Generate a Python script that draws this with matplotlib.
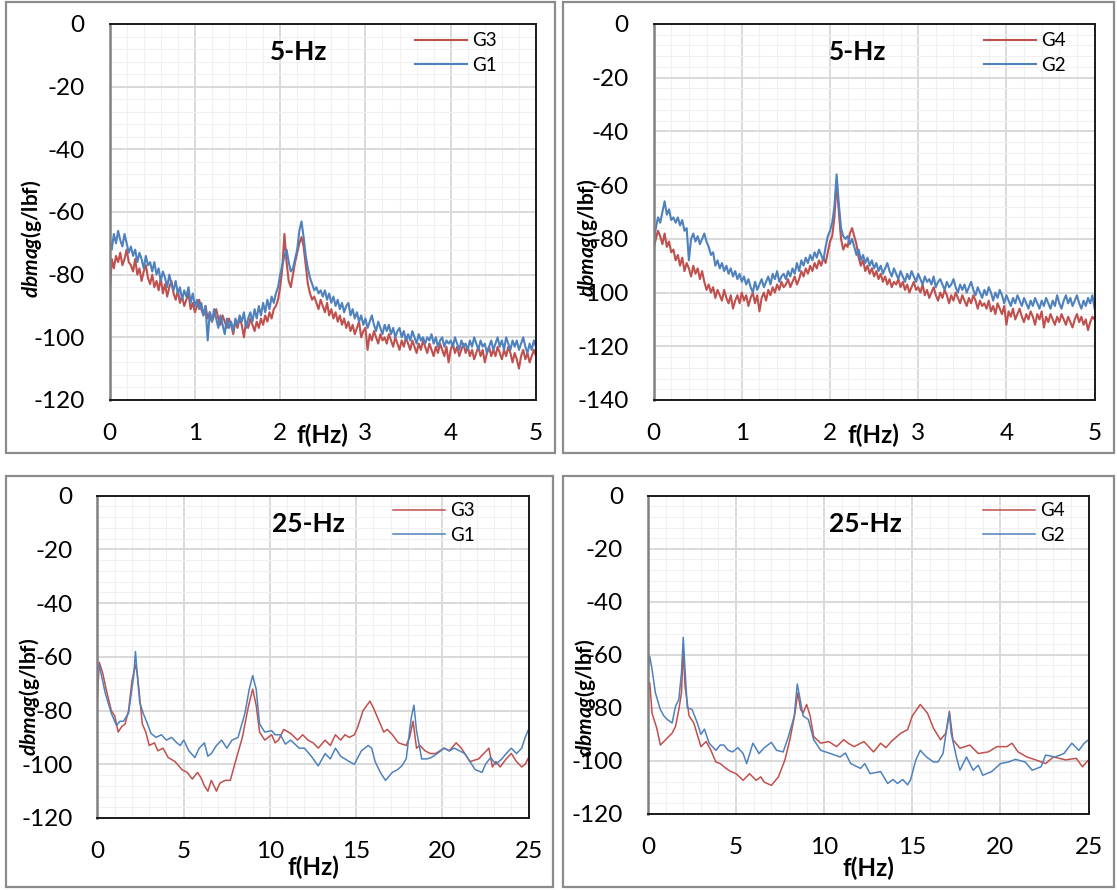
import numpy as np
import matplotlib
matplotlib.use("Agg")
import matplotlib.pyplot as plt
from matplotlib.patches import Rectangle
from matplotlib.ticker import MultipleLocator

plt.rcParams['font.family'] = ['Lato', 'DejaVu Sans']
plt.rcParams['axes.unicode_minus'] = False
plt.rcParams['mathtext.fontset'] = 'custom'
plt.rcParams['mathtext.rm'] = 'Lato:bold'
plt.rcParams['mathtext.it'] = 'Lato:bold:italic'
plt.rcParams['mathtext.bf'] = 'Lato:bold'

# ---------------- data ----------------
# 5-Hz panels: frequency grid 0..5 Hz, step 0.025 Hz
freq_5hz = np.linspace(0, 5, 201)

g1_5hz = [
    -68, -72, -67, -70, -66, -69, -71, -67, -70, -73,
    -71, -74, -72, -76, -73, -75, -78, -74, -77, -76,
    -79, -76, -80, -78, -82, -79, -81, -84, -80, -83,
    -85, -82, -86, -84, -88, -85, -87, -84, -89, -86,
    -90, -88, -91, -89, -93, -90, -101, -92, -95, -91,
    -94, -97, -93, -96, -99, -94, -97, -95, -98, -94,
    -96, -93, -95, -92, -97, -94, -92, -95, -91, -94,
    -90, -93, -89, -92, -88, -91, -87, -89, -86, -84,
    -80, -77, -74, -72, -76, -79, -78, -75, -72, -66,
    -63, -68, -74, -78, -81, -83, -85, -84, -86, -85,
    -87, -85, -88, -86, -89, -87, -90, -88, -91, -89,
    -92, -90, -89, -93, -91, -94, -92, -95, -93, -96,
    -94, -97, -95, -93, -96, -98, -95, -97, -99, -96,
    -98, -96, -99, -97, -100, -98, -97, -100, -98, -101,
    -99, -101, -98, -100, -102, -99, -101, -100, -102, -100,
    -101, -99, -102, -100, -103, -101, -100, -103, -101, -102,
    -101, -103, -100, -102, -104, -101, -103, -102, -104, -101,
    -103, -100, -102, -104, -101, -103, -102, -105, -103, -101,
    -104, -102, -100, -103, -101, -104, -100, -102, -104, -101,
    -103, -101, -104, -102, -100, -103, -105, -102, -104, -101,
    -103]

g3_5hz = [
    -87, -75, -78, -74, -76, -73, -77, -75, -72, -76,
    -77, -79, -75, -80, -78, -82, -79, -77, -81, -83,
    -80, -84, -82, -85, -81, -86, -83, -87, -84, -82,
    -86, -88, -85, -89, -87, -90, -88, -86, -91, -89,
    -92, -90, -88, -91, -93, -90, -94, -92, -95, -93,
    -91, -94, -96, -93, -95, -97, -94, -96, -99, -95,
    -97, -94, -96, -100, -95, -97, -94, -96, -98, -95,
    -97, -94, -96, -93, -95, -92, -94, -91, -90, -88,
    -84, -78, -67, -76, -82, -84, -80, -76, -73, -70,
    -68, -71, -77, -83, -86, -88, -87, -89, -91, -88,
    -90, -92, -89, -93, -91, -94, -92, -95, -93, -96,
    -94, -97, -95, -98, -96, -99, -97, -95, -100, -98,
    -97, -104, -99, -101, -98, -100, -102, -99, -101, -100,
    -102, -99, -101, -103, -100, -102, -104, -101, -103, -100,
    -102, -104, -101, -103, -105, -102, -104, -101, -103, -105,
    -102, -104, -106, -103, -105, -102, -104, -106, -103, -108,
    -104, -102, -105, -103, -106, -104, -102, -105, -103, -106,
    -104, -107, -105, -103, -106, -104, -108, -105, -103, -106,
    -104, -106, -103, -105, -107, -104, -106, -103, -105, -108,
    -105, -107, -110, -106, -104, -107, -105, -108, -106, -104,
    -106]

g2_5hz = [
    -82, -76, -72, -74, -70, -66, -71, -69, -73, -72,
    -74, -72, -75, -73, -77, -76, -88, -80, -78, -81,
    -79, -82, -80, -78, -81, -83, -86, -85, -90, -88,
    -91, -89, -92, -90, -93, -91, -94, -92, -95, -93,
    -96, -94, -97, -95, -98, -100, -96, -99, -97, -95,
    -98, -96, -94, -97, -93, -95, -92, -96, -94, -93,
    -95, -92, -94, -91, -93, -89, -92, -88, -90, -87,
    -89, -86, -88, -85, -87, -84, -86, -88, -83, -79,
    -77, -74, -68, -56, -67, -76, -79, -80, -79, -82,
    -80, -83, -86, -84, -88, -86, -89, -87, -90, -88,
    -91, -89, -92, -90, -93, -91, -89, -92, -94, -91,
    -93, -95, -92, -94, -96, -93, -95, -92, -94, -96,
    -93, -95, -97, -94, -96, -95, -97, -94, -98, -96,
    -95, -97, -99, -96, -98, -97, -95, -98, -100, -97,
    -99, -97, -100, -98, -96, -99, -101, -98, -100, -102,
    -99, -101, -98, -100, -103, -100, -102, -99, -101, -104,
    -101, -103, -105, -102, -104, -101, -103, -105, -102, -104,
    -106, -103, -105, -102, -104, -106, -103, -105, -102, -104,
    -106, -103, -105, -101, -104, -106, -103, -101, -104, -102,
    -105, -103, -101, -104, -106, -103, -105, -102, -104, -101,
    -106]

g4_5hz = [
    -84, -80, -77, -79, -82, -78, -83, -81, -85, -84,
    -88, -86, -90, -87, -92, -89, -91, -94, -90, -93,
    -91, -95, -92, -96, -99, -97, -100, -98, -102, -99,
    -101, -103, -99, -102, -104, -101, -106, -103, -101, -104,
    -100, -103, -101, -105, -102, -100, -104, -101, -107, -102,
    -100, -103, -99, -101, -98, -100, -97, -99, -96, -98,
    -97, -95, -98, -96, -94, -97, -95, -92, -94, -91,
    -93, -90, -92, -89, -91, -88, -90, -87, -89, -85,
    -81, -79, -72, -59, -70, -80, -84, -82, -83, -78,
    -76, -79, -82, -87, -90, -88, -92, -90, -93, -91,
    -94, -92, -95, -93, -96, -94, -97, -95, -98, -96,
    -97, -95, -98, -96, -99, -97, -100, -98, -96, -99,
    -98, -100, -97, -101, -99, -102, -100, -98, -101, -103,
    -100, -102, -99, -101, -104, -101, -103, -100, -102, -104,
    -101, -103, -105, -102, -104, -101, -103, -106, -103, -105,
    -104, -106, -103, -107, -105, -108, -104, -106, -108, -105,
    -112, -107, -109, -106, -110, -108, -106, -109, -111, -108,
    -110, -107, -109, -112, -108, -110, -107, -113, -109, -111,
    -108, -110, -112, -109, -111, -108, -110, -112, -109, -111,
    -113, -110, -108, -111, -109, -112, -110, -114, -111, -109,
    -110]

# 25-Hz panel, G3 / G1
g3_25_f = [0, 0.1, 0.3, 0.5, 0.8, 1.0, 1.2, 1.4, 1.6, 1.8,
           2.0, 2.2, 2.3, 2.4, 2.6, 2.8, 3.0, 3.3, 3.5, 3.8,
           4.1, 4.5, 4.9, 5.2, 5.5, 5.8, 6.0, 6.2, 6.4, 6.6,
           6.9, 7.1, 7.4, 7.7, 8.0, 8.4, 8.75, 9.0, 9.2, 9.4,
           9.7, 10.1, 10.3, 10.5, 10.8, 11.2, 11.6, 11.9, 12.2, 12.5,
           12.8, 13.2, 13.5, 13.8, 14.1, 14.35, 14.6, 14.9, 15.1, 15.4,
           15.8, 16.0, 16.2, 16.6, 16.8, 17.1, 17.45, 17.9, 18.1, 18.3,
           18.5, 18.7, 19.0, 19.3, 19.6, 20.1, 20.4, 20.8, 21.1, 21.3,
           21.6, 22.1, 22.4, 22.7, 22.9, 23.1, 23.35, 23.7, 24.0, 24.3,
           24.6, 24.8, 25.0]
g3_25_v = [-75, -62, -66, -72, -80, -82, -88, -86, -85, -80,
           -69, -63, -66, -72, -85, -88, -93, -92, -95, -94,
           -97.5, -99, -102, -103, -105.5, -103, -105, -108, -110, -106,
           -110, -107, -106, -106, -99, -90, -78.5, -72, -78, -88,
           -91, -89, -92, -91, -87, -88.5, -91, -89, -91, -92,
           -94, -91, -93, -89, -91, -89, -90, -89, -86, -80,
           -76.5, -79, -82, -88, -87, -89, -92, -93, -90, -84,
           -94, -93, -95, -96, -96, -94, -95, -92, -94, -96,
           -99, -98, -96, -94, -101, -99, -101, -98, -96, -99,
           -101, -100, -97.5]

g1_25_f = [0, 0.1, 0.45, 0.8, 1.1, 1.3, 1.5, 1.8, 2.1, 2.2,
           2.3, 2.45, 2.65, 2.9, 3.1, 3.4, 3.7, 4.0, 4.3, 4.6,
           4.8, 5.0, 5.3, 5.65, 5.9, 6.2, 6.4, 6.6, 6.9, 7.2,
           7.5, 7.8, 8.15, 8.55, 8.8, 9.0, 9.2, 9.4, 9.7, 10.1,
           10.3, 10.6, 10.9, 11.2, 11.45, 11.7, 12.0, 12.4, 12.8, 13.2,
           13.5, 13.8, 14.1, 14.35, 14.6, 14.9, 15.3, 15.7, 15.9, 16.1,
           16.4, 16.7, 17.1, 17.4, 17.65, 17.9, 18.2, 18.35, 18.5, 18.8,
           19.1, 19.35, 19.7, 20.1, 20.4, 20.7, 21.0, 21.3, 21.6, 21.9,
           22.3, 22.5, 22.8, 23.1, 23.45, 23.7, 24.0, 24.3, 24.6, 24.8,
           25.0]
g1_25_v = [-65, -63, -73.5, -81, -85.5, -84, -84, -81, -67, -58,
           -66, -77, -81, -85, -88.5, -90, -89, -91, -90, -92,
           -93, -91, -95, -97.5, -94, -92, -97, -96, -93, -91,
           -94, -91, -90, -81, -72, -67, -72, -85, -88, -87.5,
           -89, -89, -92.5, -91, -92.5, -94, -94, -97, -100.6, -96,
           -98, -94, -97, -98, -99, -100, -95, -93, -94, -99,
           -103, -106, -103, -102, -100.6, -98, -82.5, -78, -87.5, -98,
           -98, -97.5, -96, -94, -95, -94, -95, -96, -99, -102,
           -103, -100, -97.5, -100, -98, -96, -94, -96, -94, -90,
           -87]

# 25-Hz panel, G4 / G2
g4_25_f = [0, 0.1, 0.23, 0.5, 0.7, 1.0, 1.37, 1.56, 1.75, 1.9,
           2.0, 2.1, 2.33, 2.6, 3.0, 3.3, 3.57, 3.85, 4.1, 4.43,
           4.7, 5.0, 5.4, 5.76, 6.14, 6.4, 6.6, 7.0, 7.4, 7.77,
           8.05, 8.34, 8.5, 8.66, 8.8, 9.0, 9.2, 9.4, 9.8, 10.25,
           10.7, 11.1, 11.4, 11.7, 12.25, 12.8, 13.2, 13.5, 13.8, 14.35,
           14.73, 15.0, 15.45, 15.86, 16.2, 16.6, 16.9, 17.1, 17.3, 17.7,
           18.26, 18.74, 19.3, 19.8, 20.37, 20.65, 21.0, 21.5, 22.0, 22.56,
           23.0, 23.7, 24.3, 24.65, 25.0]
g4_25_v = [-73.7, -70.5, -82, -87.7, -94, -92, -89.5, -87, -80.6, -74.3,
           -57.2, -71.8, -83, -85.7, -94.6, -92.7, -96, -100.4, -101, -102.8,
           -104, -104.8, -107.3, -104.8, -107.3, -106, -108, -109.2, -106, -99.6,
           -92, -82, -74.3, -80.6, -82, -78.7, -83, -90.8, -93.3, -92.7,
           -94.6, -92, -93.5, -94.6, -92.7, -96.6, -93.3, -95, -92.7, -89.5,
           -88.2, -83, -78.7, -82, -87.7, -92, -89.5, -81.3, -92, -95.2,
           -94, -97.2, -96.6, -94.6, -94.6, -93.3, -96.6, -98.5, -99.6, -101,
           -98.5, -99.6, -99, -102.2, -99.6]

g2_25_f = [0, 0.1, 0.23, 0.42, 0.7, 0.9, 1.1, 1.37, 1.56, 1.75,
           1.9, 2.0, 2.1, 2.23, 2.5, 2.8, 3.0, 3.2, 3.47, 3.85,
           4.1, 4.3, 4.55, 4.8, 5.1, 5.4, 5.6, 5.95, 6.3, 6.6,
           7.0, 7.3, 7.67, 7.96, 8.3, 8.47, 8.6, 8.8, 9.1, 9.4,
           9.8, 10.35, 10.9, 11.2, 11.5, 12.06, 12.3, 12.6, 13.2, 13.6,
           13.9, 14.16, 14.45, 14.73, 14.9, 15.2, 15.45, 15.8, 16.2, 16.45,
           16.74, 16.9, 17.1, 17.2, 17.5, 17.7, 18.07, 18.45, 18.74, 19.0,
           19.5, 20.0, 20.45, 20.85, 21.4, 21.8, 22.3, 22.56, 23.1, 23.6,
           24.05, 24.45, 24.75, 25.0]
g2_25_v = [-65.5, -60.6, -65.5, -74.3, -80.6, -83, -84.4, -85.7, -79.4, -76.8,
           -66.7, -53.4, -65.5, -80, -80.6, -85.7, -90, -88, -93.3, -96,
           -94, -94, -96, -96.6, -95, -97.2, -101, -93.3, -97.2, -95,
           -93, -96, -96.6, -91, -83, -71, -75.6, -83, -84.4, -92,
           -96, -97.2, -98.5, -97, -101, -102.8, -101, -104.8, -104, -108.5,
           -107, -108.5, -107, -109, -107, -99.6, -96, -98.5, -100.4, -100.4,
           -97.2, -90, -82, -89.5, -98.5, -103.5, -98.5, -103.5, -101.6, -105.4,
           -104, -101, -100.4, -99.4, -100.4, -103.5, -102.2, -97.8, -98.5, -97.2,
           -93.3, -96, -93.3, -92]

xticks_5 = [0, 1, 2, 3, 4, 5]
xticks_25 = [0, 5, 10, 15, 20, 25]
yticks_120 = [0, -20, -40, -60, -80, -100, -120]
yticks_140 = [0, -20, -40, -60, -80, -100, -120, -140]

RED = '#C0504D'
BLUE = '#4F81BD'

W, H = 1117, 890
fig = plt.figure(figsize=(W / 100, H / 100), dpi=100)


def px_rect(x0, y0, x1, y1):
    return [x0 / W, 1 - y1 / H, (x1 - x0) / W, (y1 - y0) / H]


# panel frames
for (x0, y0, x1, y1) in [(6, 2, 555, 453), (563, 2, 1114, 453),
                         (6, 476, 553, 887), (563, 476, 1114, 887)]:
    fig.add_artist(Rectangle((x0 / W, 1 - y1 / H), (x1 - x0) / W, (y1 - y0) / H,
                             transform=fig.transFigure, fill=False,
                             ec='#8c8c8c', lw=1.6))

panels = [
    dict(rect=(109.6, 24, 536, 400), red=(freq_5hz, g3_5hz, 'G3'), blue=(freq_5hz, g1_5hz, 'G1'),
         xt=xticks_5, xmax=5, xminor=0.2, yt=yticks_120, ymin=-120, title='5-Hz', tpos=(2.22, -9),
         lw=1.5, leg=(415, 44), ylab=(31, 239), xlab=(322, 435)),
    dict(rect=(653.6, 24, 1094.6, 400), red=(freq_5hz, g4_5hz, 'G4'), blue=(freq_5hz, g2_5hz, 'G2'),
         xt=xticks_5, xmax=5, xminor=0.2, yt=yticks_140, ymin=-140, title='5-Hz', tpos=(2.31, -10.5),
         lw=1.5, leg=(984, 44), ylab=(587, 238), xlab=(873, 435)),
    dict(rect=(97.5, 495.7, 528.6, 818), red=(g3_25_f, g3_25_v, 'G3'), blue=(g1_25_f, g1_25_v, 'G1'),
         xt=xticks_25, xmax=25, xminor=1, yt=yticks_120, ymin=-120, title='25-Hz', tpos=(12.2, -10.6),
         lw=1.1, leg=(393, 514), ylab=(30, 697), xlab=(313, 867)),
    dict(rect=(648, 495.7, 1088.6, 814), red=(g4_25_f, g4_25_v, 'G4'), blue=(g2_25_f, g2_25_v, 'G2'),
         xt=xticks_25, xmax=25, xminor=1, yt=yticks_120, ymin=-120, title='25-Hz', tpos=(12.36, -10.7),
         lw=1.1, leg=(983, 514), ylab=(586, 698), xlab=(868, 868)),
]

for p in panels:
    ax = fig.add_axes(px_rect(*p['rect']))
    rf, rv, rl = p['red']
    bf, bv, bl = p['blue']
    lr, = ax.plot(rf, rv, color=RED, lw=p['lw'], label=rl)
    lb, = ax.plot(bf, bv, color=BLUE, lw=p['lw'], label=bl)
    ax.set_xlim(0, p['xmax'])
    ax.set_ylim(p['ymin'], 0)
    ax.set_xticks(p['xt'])
    ax.set_xticklabels([str(t) for t in p['xt']])
    ax.set_yticks(p['yt'])
    ax.set_yticklabels([str(t) for t in p['yt']])
    ax.xaxis.set_minor_locator(MultipleLocator(p['xminor']))
    ax.yaxis.set_minor_locator(MultipleLocator(4))
    ax.set_axisbelow(True)
    ax.grid(which='major', color='#d9d9d9', lw=1.4)
    ax.grid(which='minor', color='#f0f0f0', lw=0.8)
    ax.tick_params(which='both', length=0)
    ax.tick_params(axis='y', labelsize=17.5, pad=18)
    ax.tick_params(axis='x', labelsize=17.5, pad=16.5)
    for side in ['top', 'right', 'bottom']:
        ax.spines[side].set_color('#1a1a1a')
        ax.spines[side].set_linewidth(1.4)
    ax.spines['left'].set_color('#808080')
    ax.spines['left'].set_linewidth(1.8)
    ax.text(p['tpos'][0], p['tpos'][1], p['title'], fontsize=19, fontweight='bold',
            ha='center', va='center')
    lx, ly = p['leg']
    ax.legend(handles=[lr, lb], loc='upper left', frameon=False,
              bbox_to_anchor=(lx / W, 1 - (ly - 11.5) / H), bbox_transform=fig.transFigure,
              borderpad=0, borderaxespad=0, handlelength=2.75, handletextpad=0.3,
              labelspacing=0.4, fontsize=13.5)
    fig.text(p['ylab'][0] / W, 1 - p['ylab'][1] / H, r'$\mathit{dbmag}\mathrm{(g/lbf)}$',
             rotation=90, fontsize=15, ha='center', va='center')
    fig.text(p['xlab'][0] / W, 1 - p['xlab'][1] / H, 'f(Hz)', fontsize=17.5,
             fontweight='bold', ha='center', va='center')

fig.savefig('out.png', dpi=100)
